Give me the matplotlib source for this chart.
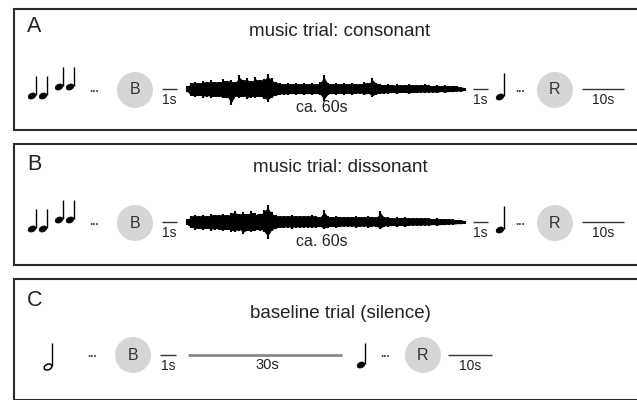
"""Trial structure figure: music (consonant / dissonant) and baseline trials."""
import matplotlib
matplotlib.use("Agg")
import matplotlib.pyplot as plt
import numpy as np
from matplotlib.patches import Circle, Ellipse, Rectangle

plt.rcParams["font.family"] = ["Liberation Sans", "DejaVu Sans"]

# ---- chart content -------------------------------------------------------
PANEL_LETTERS = ["A", "B", "C"]
PANEL_TITLES = ["music trial: consonant", "music trial: dissonant",
                "baseline trial (silence)"]
START_LABEL = "B"
RATING_LABEL = "R"
PAUSE_LABEL = "1s"
STIM_LABELS = ["ca. 60s", "ca. 60s", "30s"]
RATING_LABEL_TIME = "10s"

# waveform envelopes (px above / below the centre line)
WAVE_A_UP = [3, 6, 7, 6.5, 8, 7, 9, 7, 7.5, 10,
             8, 9, 7.5, 14, 9, 11, 8, 12, 9, 10,
             15, 11, 7, 6, 5.5, 6, 5, 6.5, 5, 6,
             5.5, 6, 5, 7, 14, 6, 5, 6, 5.5, 6,
             5, 6, 5.5, 5, 7, 6, 11, 6, 5, 4.5,
             5, 4, 5, 4.5, 4, 5, 4, 4.5, 4, 5,
             4, 3.5, 4.5, 3.5, 4, 3, 3.5, 3, 2.5, 1.5]
WAVE_A_DOWN = [3, 7, 8, 7, 8.5, 7.5, 9, 8, 8, 9,
               9, 16, 8, 9, 8, 10, 8.5, 9, 8, 10,
               13, 9, 7, 6, 5.5, 6, 5, 5.5, 5, 6,
               5, 5.5, 5, 6, 12, 6, 5, 5.5, 5, 5.5,
               5, 5.5, 5, 4.5, 6, 5, 8, 5.5, 5, 4.5,
               4.5, 4, 4.5, 4, 4, 4.5, 4, 4, 3.5, 4,
               3.5, 3.5, 4, 3, 3.5, 3, 3, 2.5, 2.5, 1.5]
WAVE_B_UP = [3, 6, 7, 6.5, 7, 6.5, 8, 7, 7.5, 8,
             7.5, 9, 11, 8, 10, 8.5, 11, 9, 8, 12,
             17, 10, 7, 6, 6.5, 6, 7, 6, 6.5, 6,
             6, 7, 6, 5.5, 12, 6, 5.5, 6, 5.5, 5,
             5.5, 5, 6, 5.5, 5, 6, 5, 5.5, 11, 5,
             5, 4.5, 5, 4.5, 5, 4.5, 4, 4.5, 4, 4,
             4, 3.5, 4, 3.5, 3.5, 3, 3, 2.5, 2.5, 1.5]
WAVE_B_DOWN = [3, 6, 7.5, 7, 8, 7, 8.5, 7.5, 8, 8.5,
               8, 9.5, 10, 8.5, 12, 9, 10, 9, 8.5, 10,
               17, 9, 7, 6, 6, 5.5, 6.5, 5.5, 6, 5.5,
               5.5, 6, 5.5, 5, 7, 5.5, 5, 5.5, 5, 4.5,
               5, 4.5, 5.5, 5, 4.5, 5.5, 4.5, 5, 7, 4.5,
               4.5, 4, 4.5, 4, 4.5, 4, 3.5, 4, 3.5, 3.5,
               3.5, 3, 3.5, 3, 3, 2.5, 2.5, 2, 2, 1.5]

# ---- layout (pixels, y down) ---------------------------------------------
W, H = 637, 400
PANEL_TOP = [9, 144, 279]
PANEL_H = 121
LETTER_DY = [17, 21, 22]
TITLE_DY = [22, 23, 34]
ROW_DY = [81, 79, 76]
INK = "#222222"
CIRCLE_FILL = "#d6d6d6"


def quarter_note(ax, x, y, stem=20, hollow=False):
    """Note head centred at (x, y) with a stem going up on its right side."""
    head = Ellipse((x, y), 8.0, 5.6, angle=-25,
                   facecolor="white" if hollow else "black",
                   edgecolor="black", lw=1.1 if hollow else 0.5)
    ax.add_patch(head)
    ax.plot([x + 3.6, x + 3.6], [y - 1, y - stem], color="black", lw=1.0,
            solid_capstyle="butt")


def dots(ax, x, y):
    ax.text(x, y + 2, "...", fontsize=8.5, color="#444444", weight="bold",
            ha="center", va="baseline")


def marker(ax, x, y, label):
    ax.add_patch(Circle((x, y), 18, facecolor=CIRCLE_FILL, edgecolor="none"))
    ax.text(x, y, label, fontsize=11.5, color="#333333",
            ha="center", va="center")


def duration(ax, x0, x1, y, label, size=10, color="#333333", lw=1.0):
    ax.plot([x0, x1], [y - 1, y - 1], color=color, lw=lw, solid_capstyle="butt")
    ax.text((x0 + x1) / 2, y + 10, label, fontsize=size, color=INK,
            ha="center", va="center")


def waveform(ax, x0, x1, y, up, down):
    """Solid core plus one thin stroke per sample to keep the spiky edge."""
    xs = np.linspace(x0, x1, len(up))
    up = np.asarray(up, dtype=float)
    down = np.asarray(down, dtype=float)
    ax.fill_between(xs, y - 0.85 * up, y + 0.85 * down, color="black", lw=0)
    ax.vlines(xs, y - up, y + down, color="black", lw=1.5)
    mid = (xs[:-1] + xs[1:]) / 2
    ax.vlines(mid, y - 0.95 * np.minimum(up[:-1], up[1:]),
              y + 0.95 * np.minimum(down[:-1], down[1:]), color="black", lw=1.2)


fig = plt.figure(figsize=(W / 100, H / 100), dpi=100)
ax = fig.add_axes([0, 0, 1, 1])
ax.set_xlim(0, W)
ax.set_ylim(H, 0)
ax.axis("off")

waves = [(WAVE_A_UP, WAVE_A_DOWN), (WAVE_B_UP, WAVE_B_DOWN)]

for k, top in enumerate(PANEL_TOP):
    ax.add_patch(Rectangle((14, top), 640, PANEL_H, facecolor="white",
                           edgecolor="#2b2b2b", lw=1.5))
    ax.text(27, top + LETTER_DY[k], PANEL_LETTERS[k], fontsize=15.5,
            color=INK, ha="left", va="center")
    ax.text(340, top + TITLE_DY[k], PANEL_TITLES[k], fontsize=13.5,
            color=INK, ha="center", va="center")
    row = top + ROW_DY[k]

    if k < 2:
        # four quarter notes, the last two a step higher
        for hx, dy in zip([32, 43, 59, 70], [6, 6, -3, -3]):
            quarter_note(ax, hx, row + dy, stem=20)
        dots(ax, 94, row)
        marker(ax, 135, row, START_LABEL)
        duration(ax, 162, 177, row, PAUSE_LABEL)
        up, down = waves[k]
        waveform(ax, 187, 465, row - 1, up, down)
        ax.text(322, row + 18, STIM_LABELS[k], fontsize=11.5, color=INK,
                ha="center", va="center")
        duration(ax, 473, 488, row, PAUSE_LABEL)
        quarter_note(ax, 500, row + 7, stem=24)
        dots(ax, 520, row)
        marker(ax, 555, row, RATING_LABEL)
        duration(ax, 582, 624, row, RATING_LABEL_TIME)
    else:
        quarter_note(ax, 48, row + 12, stem=24, hollow=True)
        dots(ax, 92, row)
        marker(ax, 133, row, START_LABEL)
        duration(ax, 160, 176, row + 1, PAUSE_LABEL)
        ax.plot([188, 342], [row, row], color="#8a8a8a", lw=2.0,
                solid_capstyle="butt")
        ax.text(267, row + 10, STIM_LABELS[k], fontsize=10.5, color=INK,
                ha="center", va="center")
        quarter_note(ax, 361, row + 10, stem=22)
        dots(ax, 385, row)
        marker(ax, 423, row, RATING_LABEL)
        duration(ax, 448, 492, row + 1, RATING_LABEL_TIME)

fig.savefig("out.png", dpi=100)
